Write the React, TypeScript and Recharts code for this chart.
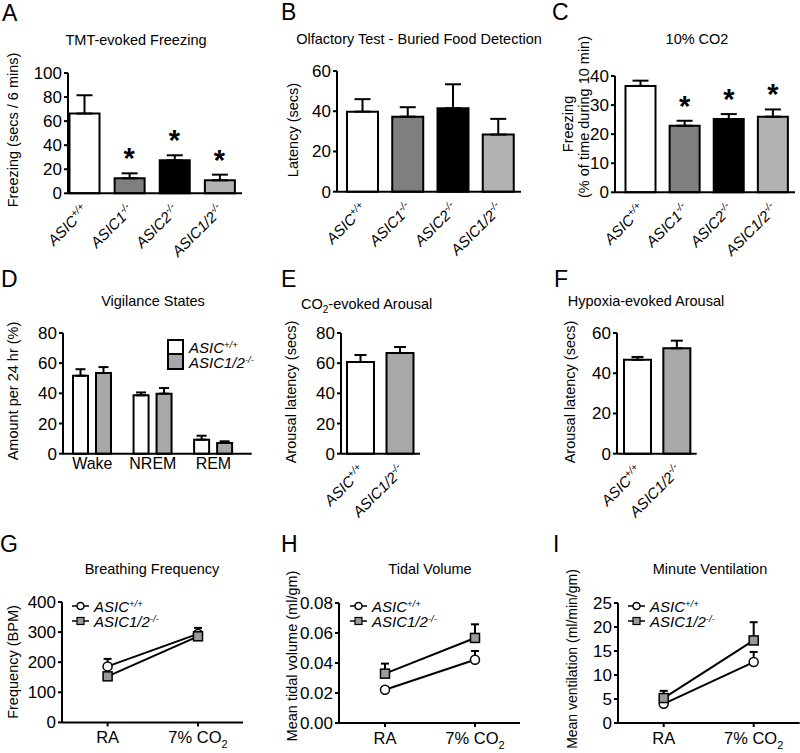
import React from 'react'
import { BarChart, Bar, ComposedChart, Line, LineChart, XAxis, YAxis, ErrorBar, Legend, Cell } from 'recharts'

const FONT = '"Liberation Sans", Arial, sans-serif'
const AXIS = { stroke: '#000', strokeWidth: 2 }

// genotypes (A-C, E-F)
const genotypes = ['ASIC+/+', 'ASIC1-/-', 'ASIC2-/-', 'ASIC1/2-/-']
const genoBase = ['ASIC', 'ASIC1', 'ASIC2', 'ASIC1/2']
const genoSup = ['+/+', '-/-', '-/-', '-/-']
const genoFill = ['#ffffff', '#7f7f7f', '#000000', '#b2b2b2']
const pairGenotypes = ['ASIC+/+', 'ASIC1/2-/-']
const pairFill = ['#ffffff', '#a8a8a8']

// A - TMT-evoked freezing (secs / 6 mins)
const tmtMean = [66.3, 12.5, 27.4, 10.8]
const tmtErr = [15.2, 4.1, 4.2, 4.7]
const tmtSig = [false, true, true, true]
const tmtTicks = [0, 20, 40, 60, 80, 100]

// B - buried food latency (secs)
const olfMean = [39.8, 37.3, 41.5, 28.4]
const olfErr = [6.2, 4.7, 11.9, 7.8]
const olfTicks = [0, 20, 40, 60]

// C - 10% CO2 freezing (%)
const co2Mean = [36.6, 22.9, 25.2, 26.0]
const co2Err = [1.8, 1.7, 1.7, 2.5]
const co2Sig = [false, true, true, true]
const co2Ticks = [0, 10, 20, 30, 40]

// D - vigilance states
const states = ['Wake', 'NREM', 'REM']
const wtState = [51.7, 38.7, 9.3]
const wtStateErr = [4.3, 1.9, 2.6]
const koState = [53.5, 39.8, 7.1]
const koStateErr = [3.9, 3.7, 1.1]
const stateTicks = [0, 20, 40, 60, 80]

// E - CO2-evoked arousal latency
const co2ArousalMean = [60.8, 66.7]
const co2ArousalErr = [4.6, 4.0]
const co2ArousalTicks = [0, 20, 40, 60, 80]

// F - hypoxia-evoked arousal latency
const hypArousalMean = [46.7, 52.4]
const hypArousalErr = [1.4, 3.8]
const hypArousalTicks = [0, 20, 40, 60]

// G-I - breathing
const conditions = ['RA', '7% CO2']
const freqWt = [186, 294]
const freqWtErr = [25, 20]
const freqKo = [153, 286]
const freqKoErr = [10, 12]
const freqTicks = [0, 100, 200, 300, 400]

const tvWt = [0.0222, 0.0422]
const tvWtErr = [0.001, 0.0058]
const tvKo = [0.0329, 0.0567]
const tvKoErr = [0.0067, 0.0091]
const tvTicks = [0, 0.02, 0.04, 0.06, 0.08]

const mvWt = [4.0, 12.7]
const mvWtErr = [0.4, 2.1]
const mvKo = [5.2, 17.2]
const mvKoErr = [1.5, 3.8]
const mvTicks = [0, 5, 10, 15, 20, 25]

function frame(g) {
  const yw = 60, pt = 20, pr = 12, xh = 70
  return {
    left: g.x0 - yw,
    top: g.top - pt,
    width: yw + g.x1 - g.x0 + pr,
    height: pt + g.y0 - g.top + xh,
    margin: { top: pt, right: pr, bottom: 0, left: 0 },
    yw, xh,
  }
}

function Geno({ name, size = 15 }) {
  const i = genotypes.indexOf(name)
  return (
    <>
      {genoBase[i]}
      <tspan dy={-6} fontSize={size * 0.68}>{genoSup[i]}</tspan>
    </>
  )
}

const RotTick = (props) => {
  const { x, y, payload } = props
  return (
    <g transform={`translate(${x + 5},${y + 16}) rotate(-45)`}>
      <text textAnchor="end" fontStyle="italic" fontSize={15} fill="#000">
        <Geno name={payload.value} />
      </text>
    </g>
  )
}

const Star = (props) => {
  const { cx, cy, payload } = props
  if (!payload.sig) return <g />
  return (
    <text x={cx} y={cy - 5} textAnchor="middle" fontSize={29} fontWeight="bold" fill="#000">*</text>
  )
}

function GenoBars({ names, mean, err, sig, fills, max, ticks, g, barSize, pad, cap }) {
  const f = frame(g)
  const rows = names.map((n, i) => ({
    name: n, mean: mean[i], err: [0, err[i]], top: mean[i] + err[i], sig: sig ? sig[i] : false,
  }))
  return (
    <div style={{ position: 'absolute', left: f.left, top: f.top }}>
      <ComposedChart width={f.width} height={f.height} data={rows} margin={f.margin}>
        <XAxis dataKey="name" interval={0} axisLine={AXIS} tickLine={false} tickSize={0}
          padding={pad} tick={<RotTick />} height={f.xh} />
        <YAxis type="number" domain={[0, max]} ticks={ticks} interval={0} width={f.yw}
          axisLine={AXIS} tickLine={AXIS} tickSize={4} tickMargin={2}
          tick={{ fontSize: 17, fill: '#000' }} />
        <Bar dataKey="mean" barSize={barSize} stroke="#000" strokeWidth={2} isAnimationActive={false}>
          {rows.map((r, i) => <Cell key={i} fill={fills[i]} />)}
          <ErrorBar dataKey="err" width={cap} stroke="#000" strokeWidth={2} />
        </Bar>
        <Line dataKey="top" stroke="none" dot={<Star />} activeDot={false} isAnimationActive={false} />
      </ComposedChart>
    </div>
  )
}

function LegendRows({ icon }) {
  return (
    <div style={{ fontFamily: FONT, fontStyle: 'italic', fontSize: 15, lineHeight: '15px', color: '#000' }}>
      {[0, 1].map((k) => {
        const i = genotypes.indexOf(pairGenotypes[k])
        return (
          <div key={k} style={{ display: 'flex', alignItems: 'center', height: 15 }}>
            {icon(k)}
            <span style={{ marginLeft: 5, whiteSpace: 'nowrap' }}>
              {genoBase[i]}
              <span style={{ fontSize: 9.5, position: 'relative', top: -5, lineHeight: 0 }}>{genoSup[i]}</span>
            </span>
          </div>
        )
      })}
    </div>
  )
}

function StatesChart() {
  const g = { x0: 63, x1: 251.7, top: 333.3, y0: 454 }
  const f = frame(g)
  const rows = states.map((s, i) => ({
    name: s, wt: wtState[i], wtErr: [0, wtStateErr[i]], ko: koState[i], koErr: [0, koStateErr[i]],
  }))
  const legend = () => (
    <LegendRows icon={(k) => (
      <div style={{ width: 13, height: 13, border: '2px solid #000', background: pairFill[k], marginTop: k ? -2 : 0 }} />
    )} />
  )
  return (
    <div style={{ position: 'absolute', left: f.left, top: f.top }}>
      <BarChart width={f.width} height={f.height} data={rows} margin={f.margin} barGap={8}>
        <XAxis dataKey="name" interval={0} axisLine={AXIS} tickLine={false} tickSize={0} tickMargin={4}
          padding={{ left: -1, right: 8 }} tick={{ fontSize: 16, fill: '#000' }} height={f.xh} />
        <YAxis type="number" domain={[0, 80]} ticks={stateTicks} interval={0} width={f.yw}
          axisLine={AXIS} tickLine={AXIS} tickSize={4} tickMargin={2} tick={{ fontSize: 17, fill: '#000' }} />
        <Bar dataKey="wt" barSize={15} fill={pairFill[0]} stroke="#000" strokeWidth={2} isAnimationActive={false}>
          <ErrorBar dataKey="wtErr" width={5} stroke="#000" strokeWidth={2} />
        </Bar>
        <Bar dataKey="ko" barSize={15} fill={pairFill[1]} stroke="#000" strokeWidth={2} isAnimationActive={false}>
          <ErrorBar dataKey="koErr" width={5} stroke="#000" strokeWidth={2} />
        </Bar>
        <Legend layout="vertical" align="center" verticalAlign="middle" content={legend}
          wrapperStyle={{ left: 167 - f.left, top: 340 - f.top, width: 'auto' }} />
      </BarChart>
    </div>
  )
}

const CondTick = (props) => {
  const { x, y, payload } = props
  const v = payload.value
  return (
    <text x={x} y={y} dy="0.71em" textAnchor="middle" fontSize={16.5} fill="#000">
      {v.endsWith('2') ? (
        <>
          {v.slice(0, -1)}
          <tspan dy={5} fontSize={11}>2</tspan>
        </>
      ) : v}
    </text>
  )
}

const CircleDot = (props) => {
  const { cx, cy } = props
  return <circle cx={cx} cy={cy} r={4.5} fill="#fff" stroke="#000" strokeWidth={1.5} />
}
const SquareDot = (props) => {
  const { cx, cy } = props
  return <rect x={cx - 4.5} y={cy - 4.5} width={9} height={9} fill="#9a9a9a" stroke="#000" strokeWidth={1.5} />
}

function Resp({ wt, wtErr, ko, koErr, max, ticks, fmt, g, px, legendAt }) {
  const f = frame(g)
  const rows = conditions.map((c, i) => ({
    name: c, wt: wt[i], wtErr: [0, wtErr[i]], ko: ko[i], koErr: [0, koErr[i]],
  }))
  const legend = () => (
    <LegendRows icon={(k) => (
      <svg width={17} height={12}>
        <line x1={0} x2={17} y1={6} y2={6} stroke="#000" strokeWidth={1.5} />
        {k === 0
          ? <circle cx={8.5} cy={6} r={3.5} fill="#fff" stroke="#000" strokeWidth={1.5} />
          : <rect x={5} y={2.5} width={7} height={7} fill="#9a9a9a" stroke="#000" strokeWidth={1.2} />}
      </svg>
    )} />
  )
  return (
    <div style={{ position: 'absolute', left: f.left, top: f.top }}>
      <LineChart width={f.width} height={f.height} data={rows} margin={f.margin}>
        <XAxis dataKey="name" scale="point" interval={0} axisLine={AXIS} tickLine={AXIS} tickSize={4} tickMargin={5}
          padding={{ left: px[0] - g.x0, right: g.x1 - px[1] }} tick={<CondTick />} height={f.xh} />
        <YAxis type="number" domain={[0, max]} ticks={ticks} interval={0} width={f.yw} tickFormatter={fmt}
          axisLine={AXIS} tickLine={AXIS} tickSize={4} tickMargin={2} tick={{ fontSize: 17, fill: '#000' }} />
        <Line dataKey="wt" stroke="#000" strokeWidth={2} dot={<CircleDot />} activeDot={false} isAnimationActive={false}>
          <ErrorBar dataKey="wtErr" width={4} stroke="#000" strokeWidth={2} />
        </Line>
        <Line dataKey="ko" stroke="#000" strokeWidth={2} dot={<SquareDot />} activeDot={false} isAnimationActive={false}>
          <ErrorBar dataKey="koErr" width={4} stroke="#000" strokeWidth={2} />
        </Line>
        <Legend layout="vertical" align="center" verticalAlign="middle" content={legend}
          wrapperStyle={{ left: legendAt[0] - f.left, top: legendAt[1] - f.top, width: 'auto' }} />
      </LineChart>
    </div>
  )
}

function Overlay() {
  const letter = (x, y, t) => <text x={x} y={y} fontSize={23} fill="#000">{t}</text>
  const title = (x, y, t, anchor = 'middle') => (
    <text x={x} y={y} fontSize={14.5} textAnchor={anchor} fill="#000">{t}</text>
  )
  const ylab = (x, y, t, size = 14.5) => (
    <text transform={`translate(${x},${y}) rotate(-90)`} textAnchor="middle" dominantBaseline="central" fontSize={size} fill="#000">{t}</text>
  )
  return (
    <svg width={800} height={753} style={{ position: 'absolute', left: 0, top: 0 }}>
      {letter(2, 21, 'A')}
      {letter(281, 20, 'B')}
      {letter(552, 20, 'C')}
      {letter(1, 287, 'D')}
      {letter(281, 287, 'E')}
      {letter(554, 287, 'F')}
      {letter(0, 552, 'G')}
      {letter(281, 552, 'H')}
      {letter(553, 552, 'I')}

      {title(136, 45, 'TMT-evoked Freezing')}
      {title(419, 44, 'Olfactory Test - Buried Food Detection')}
      {title(697, 44, '10% CO2')}
      {title(153, 306, 'Vigilance States')}
      <text x={301} y={309} fontSize={14.5} fill="#000">
        CO<tspan dy={4} fontSize={10}>2</tspan><tspan dy={-4}>-evoked Arousal</tspan>
      </text>
      {title(646, 306, 'Hypoxia-evoked Arousal')}
      {title(152, 574, 'Breathing Frequency')}
      {title(430, 574, 'Tidal Volume')}
      {title(710, 574, 'Minute Ventilation')}

      {ylab(13, 130, 'Freezing (secs / 6 mins)')}
      {ylab(293, 130, 'Latency (secs)')}
      {ylab(568, 124, 'Freezing')}
      {ylab(584, 117, '(% of time during 10 min)')}
      {ylab(13, 391, 'Amount per 24 hr (%)')}
      {ylab(291, 392, 'Arousal latency (secs)')}
      {ylab(570, 392, 'Arousal latency (secs)')}
      {ylab(13, 662, 'Frequency (BPM)')}
      {ylab(292, 656, 'Mean tidal volume (ml/gm)')}
      {ylab(572, 659, 'Mean ventilation (ml/min/gm)', 14)}
    </svg>
  )
}

export default function App() {
  return (
    <div style={{ position: 'absolute', left: 0, top: 0, width: 800, height: 753, overflow: 'hidden', background: '#fff', fontFamily: FONT }}>
      <Overlay />
      <GenoBars names={genotypes} mean={tmtMean} err={tmtErr} sig={tmtSig} fills={genoFill}
        max={100} ticks={tmtTicks} g={{ x0: 68, x1: 242, top: 72.7, y0: 193 }}
        barSize={30} pad={{ left: -6.5, right: 0 }} cap={8} />
      <GenoBars names={genotypes} mean={olfMean} err={olfErr} fills={genoFill}
        max={60} ticks={olfTicks} g={{ x0: 337, x1: 521, top: 71, y0: 191.7 }}
        barSize={31} pad={{ left: 3, right: 0 }} cap={8} />
      <GenoBars names={genotypes} mean={co2Mean} err={co2Err} sig={co2Sig} fills={genoFill}
        max={40} ticks={co2Ticks} g={{ x0: 615, x1: 795, top: 76, y0: 192.3 }}
        barSize={30} pad={{ left: 3.5, right: 0 }} cap={8} />
      <StatesChart />
      <GenoBars names={pairGenotypes} mean={co2ArousalMean} err={co2ArousalErr} fills={pairFill}
        max={80} ticks={co2ArousalTicks} g={{ x0: 341, x1: 420, top: 333.3, y0: 454 }}
        barSize={27} pad={{ left: 0, right: 0 }} cap={6} />
      <GenoBars names={pairGenotypes} mean={hypArousalMean} err={hypArousalErr} fills={pairFill}
        max={60} ticks={hypArousalTicks} g={{ x0: 617.3, x1: 697, top: 333.3, y0: 454 }}
        barSize={27} pad={{ left: 1, right: 0 }} cap={6} />
      <Resp wt={freqWt} wtErr={freqWtErr} ko={freqKo} koErr={freqKoErr} max={400} ticks={freqTicks}
        g={{ x0: 61.7, x1: 242.7, top: 602.3, y0: 722.7 }} px={[107.3, 197.7]} legendAt={[72, 599]} />
      <Resp wt={tvWt} wtErr={tvWtErr} ko={tvKo} koErr={tvKoErr} max={0.08} ticks={tvTicks}
        fmt={(v) => v.toFixed(2)}
        g={{ x0: 339, x1: 520, top: 602.7, y0: 722.7 }} px={[385, 475]} legendAt={[350, 599]} />
      <Resp wt={mvWt} wtErr={mvWtErr} ko={mvKo} koErr={mvKoErr} max={25} ticks={mvTicks}
        g={{ x0: 618.3, x1: 800, top: 602.7, y0: 722.7 }} px={[664, 754]} legendAt={[628, 599]} />
    </div>
  )
}
